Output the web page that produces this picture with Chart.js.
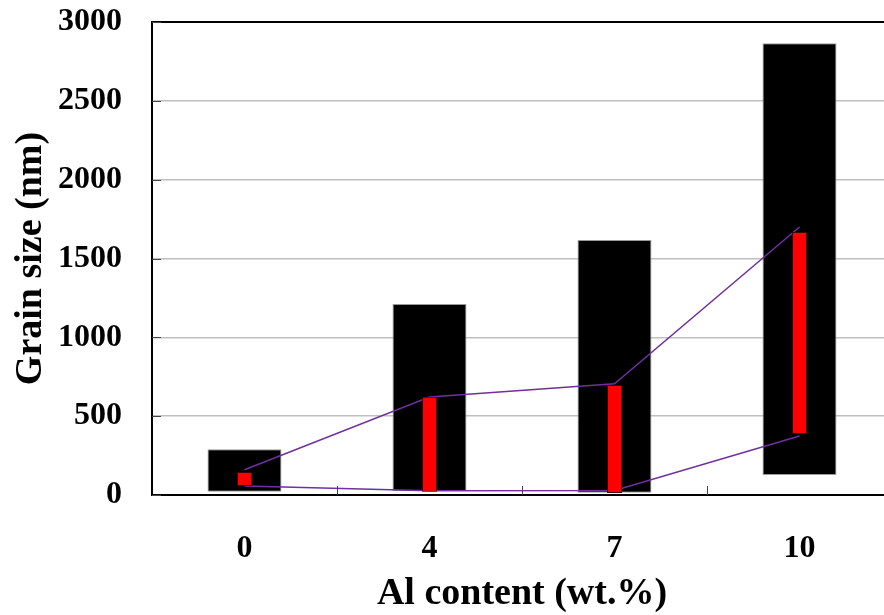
<!DOCTYPE html>
<html>
<head>
<meta charset="utf-8">
<script src="https://cdn.jsdelivr.net/npm/chart.js@4/dist/chart.umd.min.js"></script>
<style>
   html, body { margin: 0; padding: 0; overflow: hidden; background: #fff; }
   #wrap { position: relative; width: 900px; height: 615px; }
</style>
</head>
<body>
<div id="wrap"><canvas id="chart"></canvas></div>
<script>
// Al content categories
const categories = ['0', '4', '7', '10'];
// overall grain size range (black bars)
const rangeLow = [20, 25, 15, 127];
const rangeHigh = [290, 1211, 1617, 2866];
// main grain size range (red bars)
const mainLow = [57, 21, 13, 387];
const mainHigh = [146, 623, 697, 1668];
// connecting lines
const upperLine = [160, 622, 705, 1700];
const lowerLine = [57, 27, 28, 374];
const yTicks = [0, 500, 1000, 1500, 2000, 2500, 3000];

const serif = 'Liberation Serif, Times New Roman, serif';

// inward tick marks on both axes
const innerTicks = {
   id: 'innerTicks',
   afterDraw(chart) {
      const ctx = chart.ctx;
      const area = chart.chartArea;
      const x = chart.scales.x, y = chart.scales.y;
      ctx.save();
      ctx.strokeStyle = '#444';
      ctx.lineWidth = 1;
      ctx.beginPath();
      yTicks.forEach(v => {
         const py = Math.round(y.getPixelForValue(v)) + 0.5;
         ctx.moveTo(area.left, py);
         ctx.lineTo(area.left + 9, py);
      });
      for (let i = 1; i < categories.length; i++) {
         const px = Math.round((x.getPixelForValue(i - 1) + x.getPixelForValue(i)) / 2) + 0.5;
         ctx.moveTo(px, area.bottom);
         ctx.lineTo(px, area.bottom - 9);
      }
      ctx.stroke();
      ctx.restore();
   }
};

new Chart(document.getElementById('chart'), {
   type: 'bar',
   data: {
      labels: categories,
      datasets: [{
         type: 'bar',
         data: categories.map((c, i) => [mainLow[i], mainHigh[i]]),
         backgroundColor: '#ff0000',
         borderColor: '#400000',
         borderWidth: 1,
         borderSkipped: false,
         barPercentage: 0.082,
         categoryPercentage: 1,
         grouped: false,
         order: 0
      }, {
         type: 'line',
         data: upperLine,
         borderColor: '#7030a0',
         borderWidth: 1.5,
         pointRadius: 0,
         fill: false,
         order: 1
      }, {
         type: 'line',
         data: lowerLine,
         borderColor: '#7030a0',
         borderWidth: 1.5,
         pointRadius: 0,
         fill: false,
         order: 1
      }, {
         type: 'bar',
         data: categories.map((c, i) => [rangeLow[i], rangeHigh[i]]),
         backgroundColor: '#000000',
         borderColor: '#9a9a9a',
         borderWidth: 1,
         borderSkipped: false,
         barPercentage: 0.4,
         categoryPercentage: 1,
         grouped: false,
         order: 2
      }]
   },
   options: {
      responsive: true,
      maintainAspectRatio: false,
      animation: false,
      layout: {
         padding: { top: 22, right: 8, left: 0, bottom: 0 }
      },
      plugins: {
         legend: { display: false },
         tooltip: { enabled: false }
      },
      scales: {
         x: {
            grid: { display: false, drawTicks: false },
            border: { display: true, color: '#000', width: 2 },
            ticks: {
               color: '#000',
               padding: 35,
               font: { family: serif, size: 32, weight: 'bold' }
            },
            title: {
               display: true,
               text: 'Al content (wt.%)',
               color: '#000',
               padding: { top: 0, bottom: 0 },
               font: { family: serif, size: 38, weight: 'bold', lineHeight: 1.1 }
            },
            afterFit(scale) { scale.height = 120; }
         },
         y: {
            min: 0,
            max: 3000,
            afterBuildTicks(scale) { scale.ticks = yTicks.map(v => ({ value: v })); },
            grid: {
               drawTicks: true,
               tickLength: 30,
               tickColor: 'rgba(0,0,0,0)',
               color: ctx => ctx.tick && ctx.tick.value === 3000 ? '#000' : '#c0c0c0',
               lineWidth: ctx => ctx.tick && ctx.tick.value === 3000 ? 2 : 1.5
            },
            border: { display: true, color: '#000', width: 2 },
            ticks: {
               color: '#000',
               padding: 0,
               callback: v => String(v),
               font: { family: serif, size: 32, weight: 'bold' }
            },
            title: {
               display: true,
               text: 'Grain size (nm)',
               color: '#000',
               padding: { top: 10, bottom: 0 },
               font: { family: serif, size: 38, weight: 'bold', lineHeight: 1.1 }
            },
            afterFit(scale) { scale.width = 152; }
         }
      }
   },
   plugins: [innerTicks]
});
</script>
</body>
</html>
